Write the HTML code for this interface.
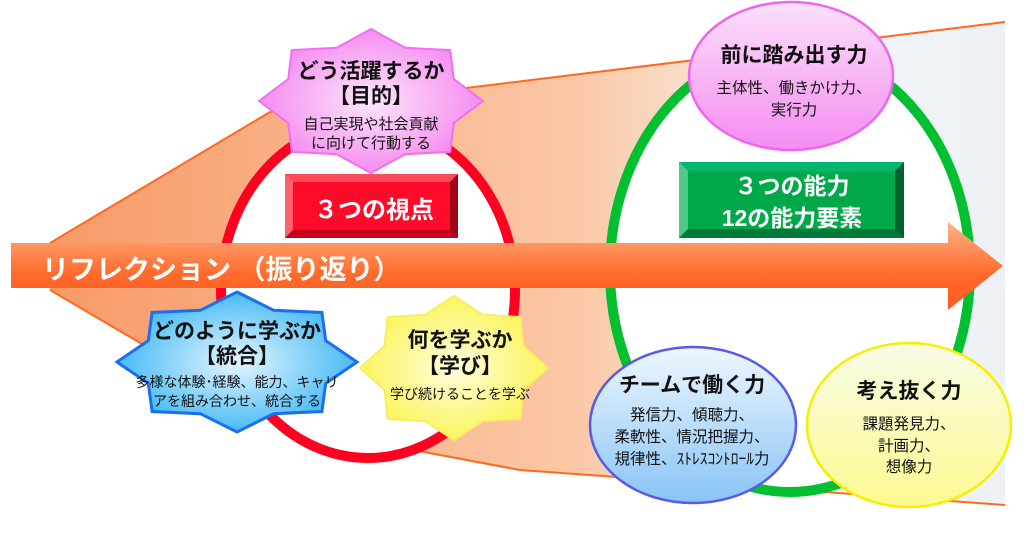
<!DOCTYPE html>
<html><head><meta charset="utf-8"><style>
body{margin:0;width:1035px;height:534px;overflow:hidden;background:#fff;font-family:"Liberation Sans","Noto Sans CJK JP",sans-serif}
svg text{font-family:"Liberation Sans","Noto Sans CJK JP",sans-serif}
</style></head><body>
<svg id="s" width="1035" height="534" viewBox="0 0 1035 534" xmlns="http://www.w3.org/2000/svg">
<defs>
<linearGradient id="fun" x1="0" x2="1" y1="0" y2="0">
<stop offset="0" stop-color="#f79a68"/><stop offset="0.55" stop-color="#fbc8a6"/><stop offset="0.72" stop-color="#f7e6da"/><stop offset="0.85" stop-color="#f0f3f7"/><stop offset="1" stop-color="#eef2f6"/></linearGradient>
<linearGradient id="arr" x1="0" x2="0" y1="0" y2="1">
<stop offset="0" stop-color="#fdb488"/><stop offset="0.6" stop-color="#ff6a2a"/><stop offset="1" stop-color="#ff5a1f"/></linearGradient>
<radialGradient id="pk"><stop offset="0" stop-color="#fde6fb"/><stop offset="1" stop-color="#f58cf0"/></radialGradient>
<radialGradient id="bl"><stop offset="0" stop-color="#e6f6ff"/><stop offset="1" stop-color="#46baf5"/></radialGradient>
<radialGradient id="yl"><stop offset="0" stop-color="#fffde0"/><stop offset="1" stop-color="#fbf55a"/></radialGradient>
<linearGradient id="pe" x1="0" x2="0" y1="0" y2="1"><stop offset="0" stop-color="#fbe0fb"/><stop offset="1" stop-color="#f58cf0"/></linearGradient>
<linearGradient id="be" x1="0" x2="0" y1="0" y2="1"><stop offset="0" stop-color="#eef7fd"/><stop offset="1" stop-color="#88c4f6"/></linearGradient>
<linearGradient id="ye" x1="0" x2="0" y1="0" y2="1"><stop offset="0" stop-color="#f8fbe6"/><stop offset="1" stop-color="#fdfa90"/></linearGradient>
</defs>
<polygon points="50,243 270,112 1005,22 1005,505 520,470 280,425 50,290" fill="url(#fun)"/>
<polyline points="50,243 270,112 1005,22" fill="none" stroke="#ff6a20" stroke-width="2"/>
<polyline points="50,290 280,425 520,470 1005,505" fill="none" stroke="#ff6a20" stroke-width="2"/>
<ellipse cx="368" cy="290" rx="147" ry="168" fill="#fff" stroke="#ff0020" stroke-width="10"/>
<ellipse cx="790" cy="270" rx="180" ry="222" fill="#fff" stroke="#00c030" stroke-width="10"/>
<polygon points="11,243 948,243 948,222 1003,266 948,310 948,288 11,288" fill="url(#arr)"/>
<text x="42" y="279" font-size="27" font-weight="bold" fill="#fff">リフレクション （振り返り）</text>
<polygon id="st1" fill="url(#pk)" stroke="#f070ee" stroke-width="2"/>
<polygon id="st2" fill="url(#bl)" stroke="#1a6ff0" stroke-width="3"/>
<polygon id="st3" fill="url(#yl)" stroke="#f5ee60" stroke-width="2"/>
<g text-anchor="middle" fill="#111">
<text x="371" y="78" font-size="21" font-weight="bold">どう活躍するか</text>
<text x="371" y="103" font-size="21" font-weight="bold">【目的】</text>
<text x="371" y="129" font-size="15">自己実現や社会貢献</text>
<text x="371" y="148" font-size="15">に向けて行動する</text>
<text x="237" y="338" font-size="21" font-weight="bold">どのように学ぶか</text>
<text x="237" y="363" font-size="21" font-weight="bold">【統合】</text>
<text x="237" y="387" font-size="14">多様な体験･経験、能力、キャリ</text>
<text x="237" y="406" font-size="14">アを組み合わせ、統合する</text>
<text x="460" y="347" font-size="21" font-weight="bold">何を学ぶか</text>
<text x="460" y="373" font-size="21" font-weight="bold">【学び】</text>
<text x="460" y="399" font-size="14">学び続けることを学ぶ</text>
</g>
<rect x="285" y="174" width="173" height="64" fill="#ff0a28"/>
<polygon points="285,174 458,174 450,182 293,182" fill="#ff4a5a"/>
<polygon points="285,174 293,182 293,230 285,238" fill="#ff6070"/>
<polygon points="458,174 458,238 450,230 450,182" fill="#a00018"/>
<polygon points="285,238 458,238 450,230 293,230" fill="#c8001c"/>
<text x="374" y="218" text-anchor="middle" font-size="24" font-weight="bold" fill="#fff">３つの視点</text>
<rect x="679" y="162" width="225" height="76" fill="#00a84a"/>
<polygon points="679,162 904,162 895,171 688,171" fill="#00b870"/>
<polygon points="679,162 688,171 688,229 679,238" fill="#50c88a"/>
<polygon points="904,162 904,238 895,229 895,171" fill="#006030"/>
<polygon points="679,238 904,238 895,229 688,229" fill="#007a36"/>
<text x="792" y="194" text-anchor="middle" font-size="23" font-weight="bold" fill="#fff">３つの能力</text>
<text x="792" y="226" text-anchor="middle" font-size="23" font-weight="bold" fill="#fff">12の能力要素</text>
<ellipse cx="791" cy="76" rx="102" ry="74" fill="url(#pe)" stroke="#ee66ee" stroke-width="2.5"/>
<ellipse cx="693" cy="425" rx="103" ry="78" fill="url(#be)" stroke="#5a5ae8" stroke-width="2.5"/>
<ellipse cx="909" cy="425" rx="102" ry="82" fill="url(#ye)" stroke="#f5f000" stroke-width="2.5"/>
<g text-anchor="middle" fill="#111">
<text x="794" y="62" font-size="21" font-weight="bold">前に踏み出す力</text>
<text x="794" y="93" font-size="15.5">主体性、働きかけ力、</text>
<text x="794" y="115" font-size="15.5">実行力</text>
<text x="692" y="392" font-size="21" font-weight="bold">チームで働く力</text>
<text x="692" y="420" font-size="15.5">発信力、傾聴力、</text>
<text x="692" y="442" font-size="15.5">柔軟性、情況把握力、</text>
<text x="692" y="464" font-size="15.5">規律性、ｽﾄﾚｽｺﾝﾄﾛｰﾙ力</text>
<text x="909" y="398" font-size="21" font-weight="bold">考え抜く力</text>
<text x="909" y="429" font-size="15.5">課題発見力、</text>
<text x="909" y="451" font-size="15.5">計画力、</text>
<text x="909" y="472" font-size="15.5">想像力</text>
</g>
</svg>
<script>
function star(id,cx,cy,rx,ry,n,k){var p=[];for(var i=0;i<2*n;i++){var a=-Math.PI/2+i*Math.PI/n;var f=i%2?k:1;p.push((cx+rx*f*Math.cos(a)).toFixed(1)+","+(cy+ry*f*Math.sin(a)).toFixed(1));}document.getElementById(id).setAttribute("points",p.join(" "));}
star("st1",371,101,112,72,8,0.8);
star("st2",237,362,120,70,8,0.8);
star("st3",454,368,94,72,8,0.8);
</script>
</body></html>
